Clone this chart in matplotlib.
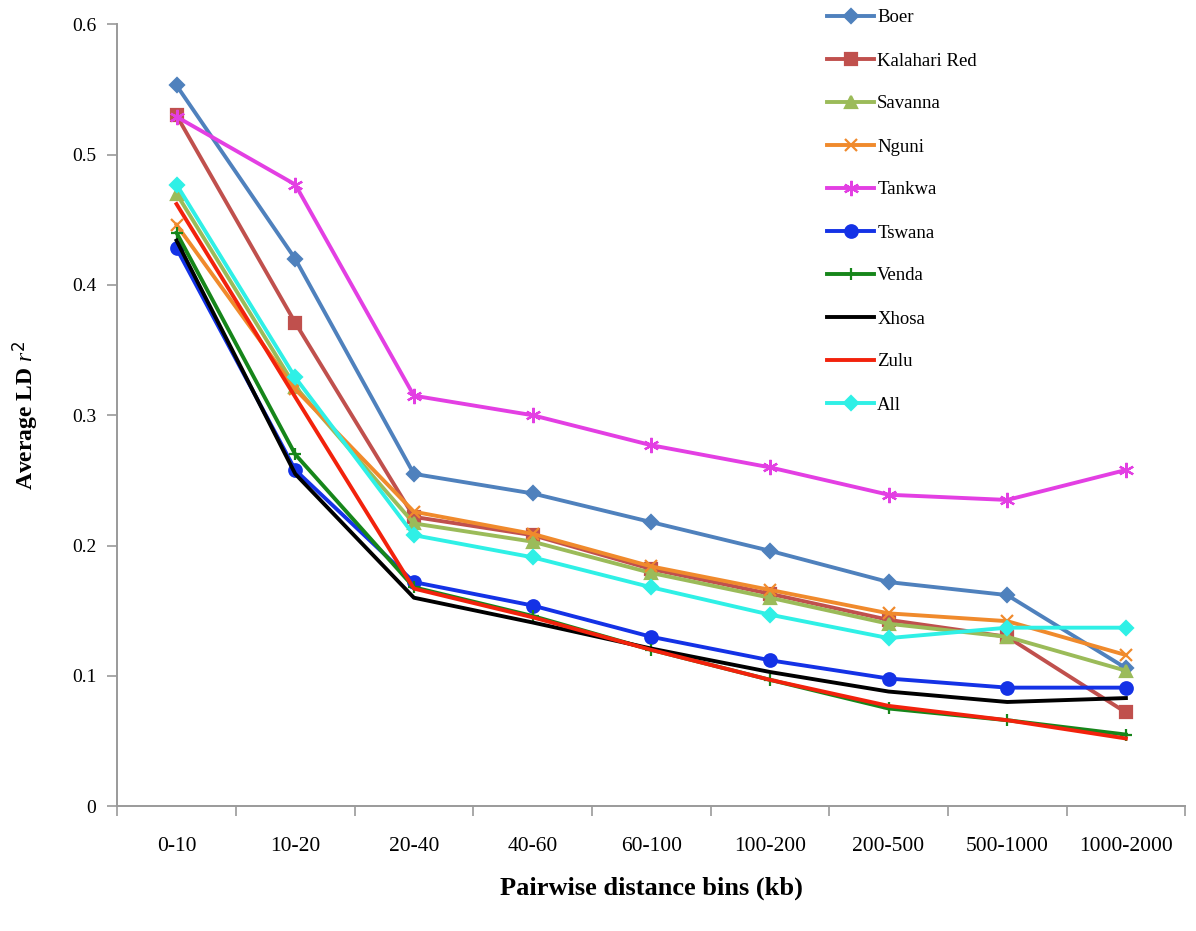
"""Average LD r^2 across pairwise distance bins for each breed."""

import matplotlib

matplotlib.use("Agg")
import matplotlib.pyplot as plt
from matplotlib.ticker import FixedLocator, NullFormatter

BINS = ["0-10", "10-20", "20-40", "40-60", "60-100", "100-200",
        "200-500", "500-1000", "1000-2000"]

boer = [0.553, 0.420, 0.255, 0.240, 0.218, 0.196, 0.172, 0.162, 0.106]
kalahari_red = [0.530, 0.371, 0.222, 0.208, 0.182, 0.163, 0.143, 0.130, 0.072]
savanna = [0.470, 0.322, 0.217, 0.203, 0.179, 0.160, 0.140, 0.130, 0.104]
nguni = [0.446, 0.320, 0.226, 0.209, 0.184, 0.166, 0.148, 0.142, 0.116]
tankwa = [0.529, 0.477, 0.315, 0.300, 0.277, 0.260, 0.239, 0.235, 0.258]
tswana = [0.428, 0.258, 0.172, 0.154, 0.130, 0.112, 0.098, 0.091, 0.091]
venda = [0.440, 0.270, 0.168, 0.146, 0.120, 0.097, 0.075, 0.066, 0.055]
xhosa = [0.434, 0.255, 0.160, 0.141, 0.121, 0.103, 0.088, 0.080, 0.083]
zulu = [0.462, 0.314, 0.167, 0.145, 0.120, 0.097, 0.077, 0.066, 0.052]
all_breeds = [0.477, 0.329, 0.208, 0.191, 0.168, 0.147, 0.129, 0.137, 0.137]

# (label, values, colour, marker, marker size)
SERIES = [
    ("Boer", boer, "#4f81bd", "D", 7),
    ("Kalahari Red", kalahari_red, "#c0504d", "s", 8),
    ("Savanna", savanna, "#9bbb59", "^", 8),
    ("Nguni", nguni, "#f08a2c", "x", 9),
    ("Tankwa", tankwa, "#e33fe3", (6, 2, 0), 11),
    ("Tswana", tswana, "#1432e6", "o", 9),
    ("Venda", venda, "#16861a", "+", 9),
    ("Xhosa", xhosa, "#000000", "None", 0),
    ("Zulu", zulu, "#f2220c", "None", 0),
    ("All", all_breeds, "#2ff0e6", "D", 7),
]

plt.rcParams["font.family"] = ["Liberation Serif", "DejaVu Serif"]
plt.rcParams["mathtext.fontset"] = "custom"
plt.rcParams["mathtext.it"] = "Liberation Serif:italic"

fig = plt.figure(figsize=(11.96, 9.31), dpi=100)
ax = fig.add_axes([0.098, 0.134, 0.893, 0.840])

x = list(range(len(BINS)))
for label, values, color, marker, ms in SERIES:
    ax.plot(x, values, color=color, linewidth=2.8, marker=marker,
            markersize=ms, markeredgewidth=1.6, markeredgecolor=color,
            label=label)

ax.set_xlim(-0.5, len(BINS) - 0.5)
ax.set_ylim(0, 0.6)
ax.set_yticks([0, 0.1, 0.2, 0.3, 0.4, 0.5, 0.6])
ax.set_yticklabels(["0", "0.1", "0.2", "0.3", "0.4", "0.5", "0.6"])
ax.set_xticks(x)
ax.set_xticklabels(BINS)
ax.xaxis.set_minor_locator(FixedLocator([i - 0.5 for i in range(len(BINS) + 1)]))
ax.xaxis.set_minor_formatter(NullFormatter())
ax.tick_params(axis="x", which="major", length=0, pad=22, labelsize=15.5)
ax.tick_params(axis="x", which="minor", length=7, color="#9a9a9a", width=1.2)
ax.tick_params(axis="y", length=7, color="#9a9a9a", width=1.2, pad=8,
               labelsize=14)

for side in ("top", "right"):
    ax.spines[side].set_visible(False)
for side in ("left", "bottom"):
    ax.spines[side].set_color("#9a9a9a")
    ax.spines[side].set_linewidth(1.4)

ax.set_xlabel("Pairwise distance bins (kb)", fontsize=19, fontweight="bold",
              labelpad=15)
ax.set_ylabel(r"Average LD $\mathit{r}^2$", fontsize=17, fontweight="bold",
              labelpad=22)

fig.legend(loc="upper left", bbox_to_anchor=(0.684, 1.000), frameon=False,
           fontsize=13.5, labelspacing=1.38, handlelength=2.5,
           handletextpad=0.15, borderpad=0)

fig.savefig("out.png", dpi=100)
